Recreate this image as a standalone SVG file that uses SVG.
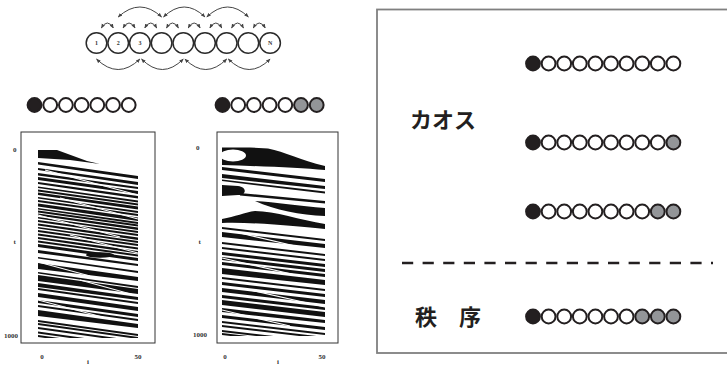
<svg xmlns="http://www.w3.org/2000/svg" width="727" height="366" viewBox="0 0 727 366">
<defs>
<style>
.site{fill:#fff;stroke:#2a2a2a;stroke-width:1.5}
.lbl{font-family:"Liberation Serif",serif;font-weight:700;font-size:6px;fill:#333;text-anchor:middle}
.arr{fill:none;stroke:#444;stroke-width:1;marker-start:url(#ah);marker-end:url(#ah)}
.b{stroke:#231f20;stroke-width:2}
.k{fill:#231f20}.w{fill:#fff}.g{fill:#939598}
.ax{font-family:"Liberation Serif",serif;font-weight:700;font-size:7px;fill:#333}
.frame{fill:none;stroke:#333;stroke-width:1}
.st{fill:#111}
.cut{fill:none;stroke:#fff;stroke-width:1.2}
.jp{font-family:"Noto Sans CJK JP","Noto Sans CJK SC",sans-serif;font-weight:700;font-size:22px;fill:#231f20}
</style>
<marker id="ah" viewBox="0 0 10 10" refX="9" refY="5" markerWidth="4.5" markerHeight="4.5" orient="auto-start-reverse" markerUnits="userSpaceOnUse"><path d="M0,1 L10,5 L0,9 Z" fill="#444"/></marker>
<clipPath id="clipL"><path d="M38,149 L57,150 L87,161 L117,170 L138,171 L138,338 L38,338 Z"/></clipPath>
<clipPath id="clipR"><rect x="222" y="147" width="103" height="189"/></clipPath>
</defs>
<rect width="727" height="366" fill="#fff"/>

<!-- chain of sites -->
<g id="site-1"><circle class="site" cx="96.5" cy="43" r="10.3"/><text class="lbl" x="96.5" y="45.2">1</text></g>
<g id="site-2"><circle class="site" cx="118.2" cy="43" r="10.3"/><text class="lbl" x="118.2" y="45.2">2</text></g>
<g id="site-3"><circle class="site" cx="139.9" cy="43" r="10.3"/><text class="lbl" x="139.9" y="45.2">3</text></g>
<g id="site-4"><circle class="site" cx="161.6" cy="43" r="10.3"/></g>
<g id="site-5"><circle class="site" cx="183.3" cy="43" r="10.3"/></g>
<g id="site-6"><circle class="site" cx="205" cy="43" r="10.3"/></g>
<g id="site-7"><circle class="site" cx="226.7" cy="43" r="10.3"/></g>
<g id="site-8"><circle class="site" cx="248.4" cy="43" r="10.3"/></g>
<g id="site-N"><circle class="site" cx="270.1" cy="43" r="10.3"/><text class="lbl" x="270.1" y="45.2">N</text></g>

<g id="connectors">
<path class="arr" d="M101.3,28 Q107.35,18 113.4,28"/>
<path class="arr" d="M123,28 Q129.05,18 135.1,28"/>
<path class="arr" d="M144.7,28 Q150.75,18 156.8,28"/>
<path class="arr" d="M166.4,28 Q172.45,18 178.5,28"/>
<path class="arr" d="M188.1,28 Q194.15,18 200.2,28"/>
<path class="arr" d="M209.8,28 Q215.85,18 221.9,28"/>
<path class="arr" d="M231.5,28 Q237.55,18 243.6,28"/>
<path class="arr" d="M253.2,28 Q259.25,18 265.3,28"/>
<path class="arr" d="M118.2,17 Q139.9,-3 161.6,17"/>
<path class="arr" d="M163.5,17 Q184.2,-3 205,17"/>
<path class="arr" d="M206.8,17 Q227.6,-3 248.4,17"/>
<path class="arr" d="M96.5,59 Q118.2,80 139.9,59"/>
<path class="arr" d="M141.5,59 Q162.4,80 183.3,59"/>
<path class="arr" d="M184.9,59 Q205.8,80 226.7,59"/>
<path class="arr" d="M228.3,59 Q249.2,80 270.1,59"/>
</g>

<!-- bead rows left -->
<g id="row-left-1" class="b">
<circle class="k" cx="34.5" cy="105" r="6.9"/><circle class="w" cx="50.2" cy="105" r="6.9"/><circle class="w" cx="65.9" cy="105" r="6.9"/><circle class="w" cx="81.6" cy="105" r="6.9"/><circle class="w" cx="97.3" cy="105" r="6.9"/><circle class="w" cx="113" cy="105" r="6.9"/><circle class="w" cx="128.7" cy="105" r="6.9"/>
</g>
<g id="row-left-2" class="b">
<circle class="k" cx="222.5" cy="105" r="6.9"/><circle class="w" cx="238.2" cy="105" r="6.9"/><circle class="w" cx="253.9" cy="105" r="6.9"/><circle class="w" cx="269.6" cy="105" r="6.9"/><circle class="w" cx="285.3" cy="105" r="6.9"/><circle class="g" cx="301" cy="105" r="6.9"/><circle class="g" cx="316.7" cy="105" r="6.9"/>
</g>

<!-- spacetime plot left -->
<g id="plot-left">
<rect class="frame" x="21" y="132" width="134" height="211"/>
<path class="st" d="M38,150 L57,150 L87,161 L100,164 L70,160 L38,158 Z"/>
<g clip-path="url(#clipL)">
<path class="st" d="M38,162L138,176L138,179L38,164.5Z M38,168L138,182L138,185L38,170Z M38,173L138,187L138,189L38,175.5Z M38,177L138,191L138,194L38,180Z M38,182L138,196L138,198.5L38,184Z M38,186.5L138,200.5L138,202.5L38,188Z M38,189.5L138,203.5L138,205.5L38,191.5Z M38,192.5L138,206.5L138,209.5L38,195Z M38,197L138,211L138,213L38,198.5Z M38,200L138,214L138,216L38,202Z M38,203.5L138,217.5L138,221L38,206.5Z M38,208L138,222L138,224L38,209.5Z M38,210.5L138,224.5L138,226.5L38,212.5Z M38,213.5L138,227.5L138,230L38,215.5Z M38,217L138,231L138,233L38,218.5Z M38,220L138,234L138,236L38,222Z M38,223.5L138,237.5L138,240L38,225.5Z M38,227L138,241L138,243L38,228.5Z M38,230L138,244L138,246L38,232Z M38,233.5L138,247.5L138,249.5L38,235.5Z M38,237L138,251L138,253.5L38,239Z M38,240.5L138,254.5L138,256.5L38,242.5Z M38,244L138,258L138,261L38,247Z M38,250L138,264L138,266L38,253Z M38,257L138,271L138,273L38,258.5Z M38,263L138,277L138,281L38,269Z M38,272L138,286L138,288L38,273.5Z M38,275L138,289L138,294L38,281Z M38,283L138,297L138,300L38,287Z M38,288L138,302L138,304L38,290Z M38,293L138,307L138,311L38,297Z M38,300L138,314L138,317L38,303Z M38,305L138,319L138,321L38,307Z M38,310L138,324L138,328L38,316Z M38,320L138,334L138,336L38,322Z M38,323L138,337L138,339L38,325Z M38,327L138,341L138,343L38,329Z M38,331.5L138,345.5L138,347.5L38,333.5Z M38,335L138,349L138,351L38,337Z"/>
<ellipse class="st" cx="100" cy="255" rx="14" ry="2.8"/>
<path class="cut" d="M45,170 L138,195 M60,198 L138,219 M38,215 L120,237 M70,235 L138,253 M38,262 L90,276 M80,280 L138,296 M38,300 L110,319"/>
</g>
<text class="ax" x="13" y="152">0</text>
<text class="ax" x="13.5" y="244">t</text>
<text class="ax" x="18" y="338" text-anchor="end">1000</text>
<text class="ax" x="42" y="359" text-anchor="middle">0</text>
<text class="ax" x="138" y="359" text-anchor="middle">50</text>
<text class="ax" x="88" y="364" text-anchor="middle" font-size="5">i</text>
</g>

<!-- spacetime plot right -->
<g id="plot-right">
<rect class="frame" x="217" y="132" width="121" height="211"/>
<g clip-path="url(#clipR)">
<path class="st" d="M222,147.5 L250,147.5 L268,148.5 C285,152 300,160 325,166 L325,170 C300,168 260,166 222,165 Z"/>
<ellipse cx="233" cy="155.5" rx="13" ry="6" fill="#fff"/>
<path class="st" d="M222,167L325,179L325,182L222,170Z M222,174L325,186L325,189L222,178Z M222,179.5L325,191.5L325,193.5L222,181Z M222,185 L238,186 C247,187 247,195 238,195 L222,196 Z M240,193 L325,201 L325,203.5 L240,195.5 Z M255,201 C275,202 300,206 325,208 L325,216 C300,215 275,210 255,201 Z M222,219 C235,217 245,212 255,211 C275,211 300,220 325,224 L325,229 C300,227 260,222 222,223 Z M222,227L325,239L325,241L222,229Z M222,232L325,244L325,248L222,237Z M222,242L325,254L325,256L222,244Z M222,247L325,259L325,261L222,249Z M222,252L325,264L325,267L222,255Z M222,257L325,269L325,272L222,260Z M222,262L325,274L325,277L222,265Z M222,268L325,280L325,285L222,274Z M222,277L325,289L325,291L222,279Z M222,282L325,294L325,297L222,285Z M222,288L325,300L325,304L222,292Z M222,295L325,307L325,310L222,298Z M222,300L325,312L325,317L222,305Z M222,308L325,320L325,323L222,312Z M222,315L325,327L325,330L222,318Z M222,321L325,333L325,335L222,323Z M222,325L325,337L325,339L222,327Z M222,330L325,342L325,344L222,332Z M222,333L325,345L325,347L222,335Z"/>
<path class="cut" d="M240,233 L325,253 M222,258 L300,276 M250,290 L325,307 M222,310 L290,326"/>
</g>
<text class="ax" x="196" y="150">0</text>
<text class="ax" x="198.5" y="244">t</text>
<text class="ax" x="207" y="337" text-anchor="end">1000</text>
<text class="ax" x="225" y="359" text-anchor="middle">0</text>
<text class="ax" x="322" y="359" text-anchor="middle">50</text>
<text class="ax" x="278" y="364" text-anchor="middle" font-size="5">i</text>
</g>

<!-- right panel -->
<g id="panel">
<rect x="377" y="9.5" width="370" height="343.5" fill="none" stroke="#808080" stroke-width="1.8"/>
<line x1="402" y1="263" x2="713" y2="263" stroke="#231f20" stroke-width="2.5" stroke-dasharray="11.2 9.4"/>
<text class="jp" x="410" y="128">カオス</text>
<text class="jp" x="415" y="325">秩　序</text>
</g>
<g id="row-right-1" class="b">
<circle class="k" cx="533" cy="63.5" r="6.9"/><circle class="w" cx="548.6" cy="63.5" r="6.9"/><circle class="w" cx="564.2" cy="63.5" r="6.9"/><circle class="w" cx="579.8" cy="63.5" r="6.9"/><circle class="w" cx="595.4" cy="63.5" r="6.9"/><circle class="w" cx="611" cy="63.5" r="6.9"/><circle class="w" cx="626.6" cy="63.5" r="6.9"/><circle class="w" cx="642.2" cy="63.5" r="6.9"/><circle class="w" cx="657.8" cy="63.5" r="6.9"/><circle class="w" cx="673.4" cy="63.5" r="6.9"/>
</g>
<g id="row-right-2" class="b">
<circle class="k" cx="533" cy="142.5" r="6.9"/><circle class="w" cx="548.6" cy="142.5" r="6.9"/><circle class="w" cx="564.2" cy="142.5" r="6.9"/><circle class="w" cx="579.8" cy="142.5" r="6.9"/><circle class="w" cx="595.4" cy="142.5" r="6.9"/><circle class="w" cx="611" cy="142.5" r="6.9"/><circle class="w" cx="626.6" cy="142.5" r="6.9"/><circle class="w" cx="642.2" cy="142.5" r="6.9"/><circle class="w" cx="657.8" cy="142.5" r="6.9"/><circle class="g" cx="673.4" cy="142.5" r="6.9"/>
</g>
<g id="row-right-3" class="b">
<circle class="k" cx="533" cy="211.5" r="6.9"/><circle class="w" cx="548.6" cy="211.5" r="6.9"/><circle class="w" cx="564.2" cy="211.5" r="6.9"/><circle class="w" cx="579.8" cy="211.5" r="6.9"/><circle class="w" cx="595.4" cy="211.5" r="6.9"/><circle class="w" cx="611" cy="211.5" r="6.9"/><circle class="w" cx="626.6" cy="211.5" r="6.9"/><circle class="w" cx="642.2" cy="211.5" r="6.9"/><circle class="g" cx="657.8" cy="211.5" r="6.9"/><circle class="g" cx="673.4" cy="211.5" r="6.9"/>
</g>
<g id="row-right-4" class="b">
<circle class="k" cx="533" cy="316.5" r="6.9"/><circle class="w" cx="548.6" cy="316.5" r="6.9"/><circle class="w" cx="564.2" cy="316.5" r="6.9"/><circle class="w" cx="579.8" cy="316.5" r="6.9"/><circle class="w" cx="595.4" cy="316.5" r="6.9"/><circle class="w" cx="611" cy="316.5" r="6.9"/><circle class="w" cx="626.6" cy="316.5" r="6.9"/><circle class="g" cx="642.2" cy="316.5" r="6.9"/><circle class="g" cx="657.8" cy="316.5" r="6.9"/><circle class="g" cx="673.4" cy="316.5" r="6.9"/>
</g>
</svg>
